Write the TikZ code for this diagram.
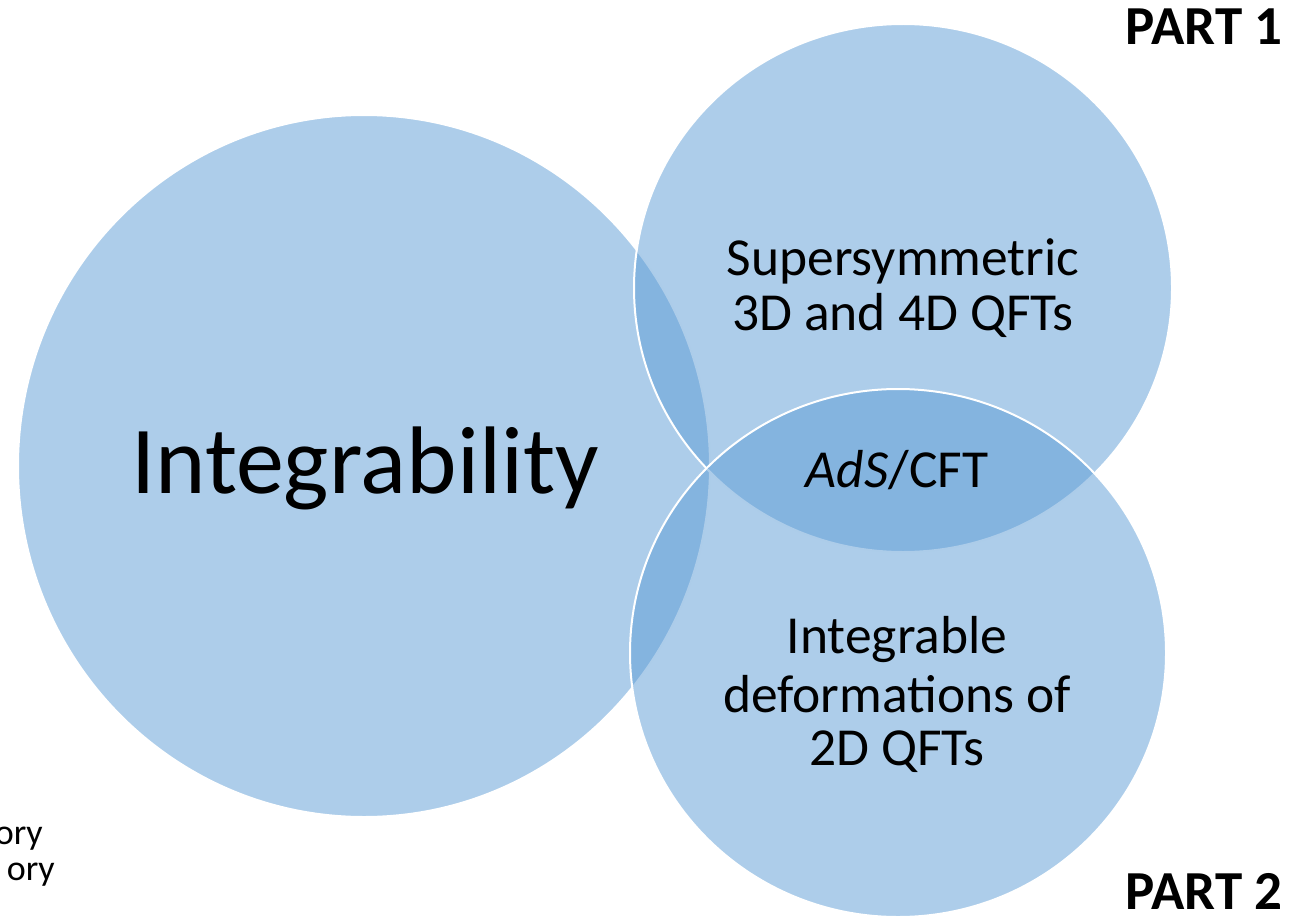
\documentclass[tikz,border=0pt]{standalone}
\usepackage{fontspec}
\setmainfont{Carlito}
\usetikzlibrary{shapes.geometric}
\definecolor{acc}{HTML}{5B9BD5}
\tikzset{
  venn/.style={ellipse, draw=white, line width=2pt, fill=acc, fill opacity=0.5, inner sep=0pt},
  lbl/.style={inner sep=0pt, anchor=base, font=\fontsize{53.5}{58}\selectfont},
  big/.style={inner sep=0pt, anchor=base, font=\fontsize{96}{100}\selectfont},
  part/.style={inner sep=0pt, anchor=base east, font=\fontsize{55}{60}\selectfont\bfseries},
  side/.style={inner sep=0pt, anchor=base east, font=\fontsize{36}{40}\selectfont}
}
\begin{document}
\begin{tikzpicture}[x=1pt,y=-1pt]
\useasboundingbox (0,0) rectangle (1289,923);
\node[venn, minimum width=692pt, minimum height=702pt] (cbig) at (364,466) {};
\node[venn, minimum width=538pt, minimum height=528pt] (ctop) at (903,288) {};
\node[venn, minimum width=536pt, minimum height=528pt] (cbot) at (898,653) {};
\node[big] (integ) at (365,493) {Integrability};
\node[lbl] (sup1) at (903,275) {Supersymmetric};
\node[lbl] (sup2) at (903,330) {3D and 4D QFTs};
\node[lbl] (ads) at (897,487) {\textit{AdS}/CFT};
\node[lbl] (def1) at (897,653) {Integrable};
\node[lbl] (def2) at (897,712) {deformations of};
\node[lbl] (def3) at (897,765) {2D QFTs};
\node[part] (p1) at (1283,45) {PART 1};
\node[part] (p2) at (1283,909) {PART 2};
\node[side] (s1) at (43,844) {ory};
\node[side] (s2) at (55,880) {ory};
\end{tikzpicture}
\end{document}
